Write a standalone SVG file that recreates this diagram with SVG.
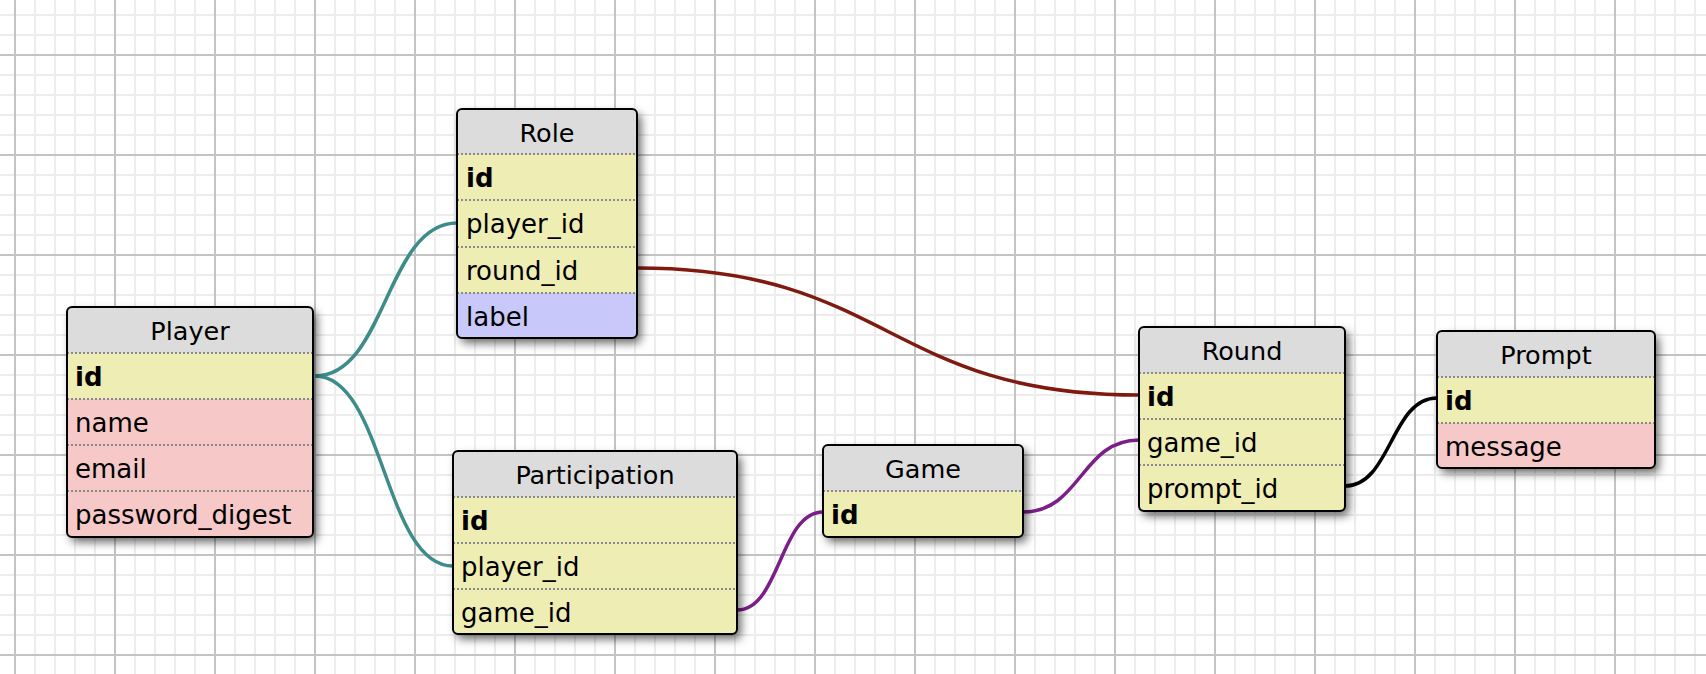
<svg xmlns="http://www.w3.org/2000/svg" width="1706" height="674" viewBox="0 0 1706 674">
<defs>
<pattern id="minor" x="5" y="5" width="20" height="20" patternUnits="userSpaceOnUse">
<path d="M10,0 V20 M0,10 H20" stroke="#ededed" stroke-width="2" fill="none"/>
</pattern>
<pattern id="major" x="-35" y="5" width="100" height="100" patternUnits="userSpaceOnUse">
<path d="M50,0 V100 M0,50 H100" stroke="#c4c4c4" stroke-width="2" fill="none"/>
</pattern>
<filter id="sh" x="-20%" y="-20%" width="150%" height="150%">
<feDropShadow dx="4" dy="5" stdDeviation="5" flood-color="#000" flood-opacity="0.6"/>
</filter>
<clipPath id="c-role"><rect x="457" y="109" width="180" height="229" rx="5"/></clipPath>
<clipPath id="c-player"><rect x="67" y="307" width="246" height="230" rx="5"/></clipPath>
<clipPath id="c-part"><rect x="453" y="451" width="284" height="183" rx="5"/></clipPath>
<clipPath id="c-game"><rect x="823" y="445" width="200" height="92" rx="5"/></clipPath>
<clipPath id="c-round"><rect x="1139" y="327" width="206" height="184" rx="5"/></clipPath>
<clipPath id="c-prompt"><rect x="1437" y="331" width="218" height="137" rx="5"/></clipPath>
</defs>
<style>
.hd{fill:#dcdcdc}
.pk{fill:#eeedb3}
.at{fill:#f6c8c8}
.lb{fill:#c8c8fa}
.sep{stroke:#8a8a8a;stroke-width:2;stroke-dasharray:2 2;fill:none}
.bd{fill:none;stroke:#000;stroke-width:2}
.sb{fill:#fff;filter:url(#sh)}
text{font-family:"DejaVu Sans","Verdana",sans-serif;font-size:26px;fill:#000}
.t{text-anchor:middle;font-size:25.5px}
.b{font-weight:bold}
.cn{fill:none;stroke-width:3.5}
</style>
<rect width="1706" height="674" fill="#fff"/>
<rect width="1706" height="674" fill="url(#minor)"/>
<rect width="1706" height="674" fill="url(#major)"/>

<g id="connectors">
<path class="cn" stroke="#3e8c8a" d="M315,376 C386,376 386,223 457,223"/>
<path class="cn" stroke="#3e8c8a" d="M315,376 C384,376 384,566 453,566"/>
<path class="cn" stroke="#7f1a10" d="M637,268 C888,268 888,395 1139,395"/>
<path class="cn" stroke="#7b1f88" d="M737,610 C780,610 780,512 823,512"/>
<path class="cn" stroke="#7b1f88" d="M1023,512 C1081,512 1081,440 1139,440"/>
<path class="cn" stroke="#000" d="M1345,486 C1391,486 1391,398 1437,398"/>
</g>

<g id="role">
<rect class="sb" x="457" y="109" width="180" height="229" rx="5"/>
<g clip-path="url(#c-role)">
<rect class="hd" x="457" y="109" width="180" height="45"/>
<rect class="pk" x="457" y="154" width="180" height="139"/>
<rect class="lb" x="457" y="293" width="180" height="45"/>
</g>
<path class="sep" d="M457,154H637 M457,200H637 M457,247H637 M457,293H637"/>
<rect class="bd" x="457" y="109" width="180" height="229" rx="5"/>
<text class="t" x="547" y="142">Role</text>
<text class="b" x="466" y="187">id</text>
<text x="466" y="233">player_id</text>
<text x="466" y="280">round_id</text>
<text x="466" y="326">label</text>
</g>

<g id="player">
<rect class="sb" x="67" y="307" width="246" height="230" rx="5"/>
<g clip-path="url(#c-player)">
<rect class="hd" x="67" y="307" width="246" height="46"/>
<rect class="pk" x="67" y="353" width="246" height="46"/>
<rect class="at" x="67" y="399" width="246" height="138"/>
</g>
<path class="sep" d="M67,353H313 M67,399H313 M67,445H313 M67,491H313"/>
<rect class="bd" x="67" y="307" width="246" height="230" rx="5"/>
<text class="t" x="190" y="340">Player</text>
<text class="b" x="75" y="386">id</text>
<text x="75" y="432">name</text>
<text x="75" y="478">email</text>
<text x="75" y="524">password_digest</text>
</g>

<g id="participation">
<rect class="sb" x="453" y="451" width="284" height="183" rx="5"/>
<g clip-path="url(#c-part)">
<rect class="hd" x="453" y="451" width="284" height="46"/>
<rect class="pk" x="453" y="497" width="284" height="137"/>
</g>
<path class="sep" d="M453,497H737 M453,543H737 M453,589H737"/>
<rect class="bd" x="453" y="451" width="284" height="183" rx="5"/>
<text class="t" x="595" y="484">Participation</text>
<text class="b" x="461" y="530">id</text>
<text x="461" y="576">player_id</text>
<text x="461" y="622">game_id</text>
</g>

<g id="game">
<rect class="sb" x="823" y="445" width="200" height="92" rx="5"/>
<g clip-path="url(#c-game)">
<rect class="hd" x="823" y="445" width="200" height="46"/>
<rect class="pk" x="823" y="491" width="200" height="46"/>
</g>
<path class="sep" d="M823,491H1023"/>
<rect class="bd" x="823" y="445" width="200" height="92" rx="5"/>
<text class="t" x="923" y="478">Game</text>
<text class="b" x="831" y="524">id</text>
</g>

<g id="round">
<rect class="sb" x="1139" y="327" width="206" height="184" rx="5"/>
<g clip-path="url(#c-round)">
<rect class="hd" x="1139" y="327" width="206" height="46"/>
<rect class="pk" x="1139" y="373" width="206" height="138"/>
</g>
<path class="sep" d="M1139,373H1345 M1139,419H1345 M1139,465H1345"/>
<rect class="bd" x="1139" y="327" width="206" height="184" rx="5"/>
<text class="t" x="1242" y="360">Round</text>
<text class="b" x="1147" y="406">id</text>
<text x="1147" y="452">game_id</text>
<text x="1147" y="498">prompt_id</text>
</g>

<g id="prompt">
<rect class="sb" x="1437" y="331" width="218" height="137" rx="5"/>
<g clip-path="url(#c-prompt)">
<rect class="hd" x="1437" y="331" width="218" height="46"/>
<rect class="pk" x="1437" y="377" width="218" height="46"/>
<rect class="at" x="1437" y="423" width="218" height="45"/>
</g>
<path class="sep" d="M1437,377H1655 M1437,423H1655"/>
<rect class="bd" x="1437" y="331" width="218" height="137" rx="5"/>
<text class="t" x="1546" y="364">Prompt</text>
<text class="b" x="1445" y="410">id</text>
<text x="1445" y="456">message</text>
</g>
</svg>
